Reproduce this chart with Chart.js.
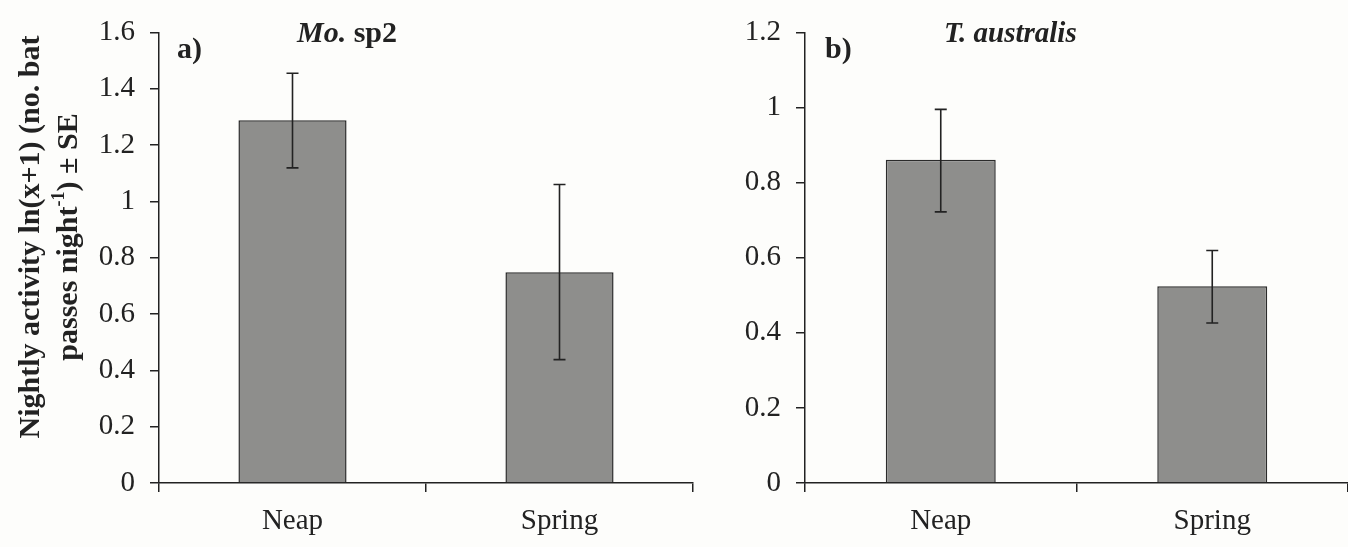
<!DOCTYPE html>
<html lang="en">
<head>
<meta charset="UTF-8">
<title>Nightly activity - Mo. sp2 and T. australis</title>
<script src="https://cdn.jsdelivr.net/npm/chart.js"></script>
<style>
    * { margin: 0; padding: 0; box-sizing: border-box; }
    html, body { width: 1348px; height: 547px; background: #fdfdfb; overflow: hidden; }
    body { position: relative; font-family: "Liberation Serif", "Times New Roman", serif; color: #222; }
    canvas { position: absolute; top: 0; }
    #chartA { left: 0; }
    #chartB { left: 720px; }
    .lbl { position: absolute; font-weight: bold; font-size: 30px; line-height: 30px; white-space: nowrap; }
    #ytitle {
        position: absolute; width: 480px; left: -192px; top: 199px;
        font-weight: bold; font-size: 30px; line-height: 38px; text-align: center;
        transform: rotate(-90deg); white-space: nowrap;
    }
    #ytitle sup { font-size: 60%; line-height: 0; vertical-align: 0.7em; }
</style>
</head>
<body>

<canvas id="chartA" width="720" height="547"></canvas>
<canvas id="chartB" width="628" height="547"></canvas>

<div id="ytitle">Nightly activity ln(x+1) (no. bat<br>passes night<sup>-1</sup>) ± SE</div>
<div class="lbl" style="left:177px; top:33px;">a)</div>
<div class="lbl" style="left:297px; top:17px;"><i>Mo.</i> sp2</div>
<div class="lbl" style="left:825px; top:33px;">b)</div>
<div class="lbl" style="left:944px; top:17px; font-size:29px;"><i>T. australis</i></div>

<script>
    // categorias
    const categories = ["Neap", "Spring"];

    // a) Mo. sp2
    const moMeans = [1.288, 0.748];
    const moLow = [1.119, 0.438];
    const moHigh = [1.455, 1.060];
    const moMax = 1.6;

    // b) T. australis
    const taMeans = [0.861, 0.524];
    const taLow = [0.722, 0.426];
    const taHigh = [0.995, 0.619];
    const taMax = 1.2;

    const tickStep = 0.2;

    // barras de erro (± SE)
    const errorBars = {
        id: 'errorBars',
        afterDatasetsDraw(chart, args, opts) {
            const ctx = chart.ctx;
            const y = chart.scales.y;
            const meta = chart.getDatasetMeta(0);
            ctx.save();
            ctx.strokeStyle = '#222';
            ctx.lineWidth = 1.6;
            meta.data.forEach((bar, i) => {
                const yHi = y.getPixelForValue(opts.high[i]);
                const yLo = y.getPixelForValue(opts.low[i]);
                ctx.beginPath();
                ctx.moveTo(bar.x, yHi);
                ctx.lineTo(bar.x, yLo);
                ctx.moveTo(bar.x - 6, yHi);
                ctx.lineTo(bar.x + 6, yHi);
                ctx.moveTo(bar.x - 6, yLo);
                ctx.lineTo(bar.x + 6, yLo);
                ctx.stroke();
            });
            ctx.restore();
        }
    };

    function makeChart(id, means, low, high, max, axisWidth, padRight) {
        return new Chart(document.getElementById(id), {
            type: 'bar',
            data: {
                labels: categories,
                datasets: [{
                    data: means,
                    backgroundColor: '#8e8e8c',
                    borderColor: '#2b2b2b',
                    borderWidth: 1.5,
                    categoryPercentage: 1,
                    barPercentage: 0.405
                }]
            },
            options: {
                responsive: false,
                animation: false,
                events: [],
                layout: { padding: { top: 23, left: 0, right: padRight, bottom: 0 } },
                plugins: {
                    legend: { display: false },
                    tooltip: { enabled: false },
                    errorBars: { low: low, high: high }
                },
                scales: {
                    x: {
                        offset: true,
                        grid: { display: true, offset: true, drawOnChartArea: false, tickLength: 9, color: '#222', lineWidth: 1.5 },
                        border: { display: true, color: '#222', width: 1.5 },
                        ticks: { color: '#222', padding: 12, font: { family: 'Liberation Serif', size: 29 } },
                        afterFit(scale) { scale.height = 64; }
                    },
                    y: {
                        min: 0,
                        max: max,
                        ticks: {
                            stepSize: tickStep,
                            color: '#222',
                            padding: 15,
                            font: { family: 'Liberation Serif', size: 29 },
                            callback: v => Number(v.toFixed(1)).toString()
                        },
                        grid: { display: true, drawOnChartArea: false, tickLength: 9, color: '#222', lineWidth: 1.5 },
                        border: { display: true, color: '#222', width: 1.5 },
                        afterFit(scale) { scale.width = axisWidth; }
                    }
                }
            },
            plugins: [errorBars]
        });
    }

    makeChart('chartA', moMeans, moLow, moHigh, moMax, 159, 27);
    makeChart('chartB', taMeans, taLow, taHigh, taMax, 85, 0);
</script>

</body>
</html>
